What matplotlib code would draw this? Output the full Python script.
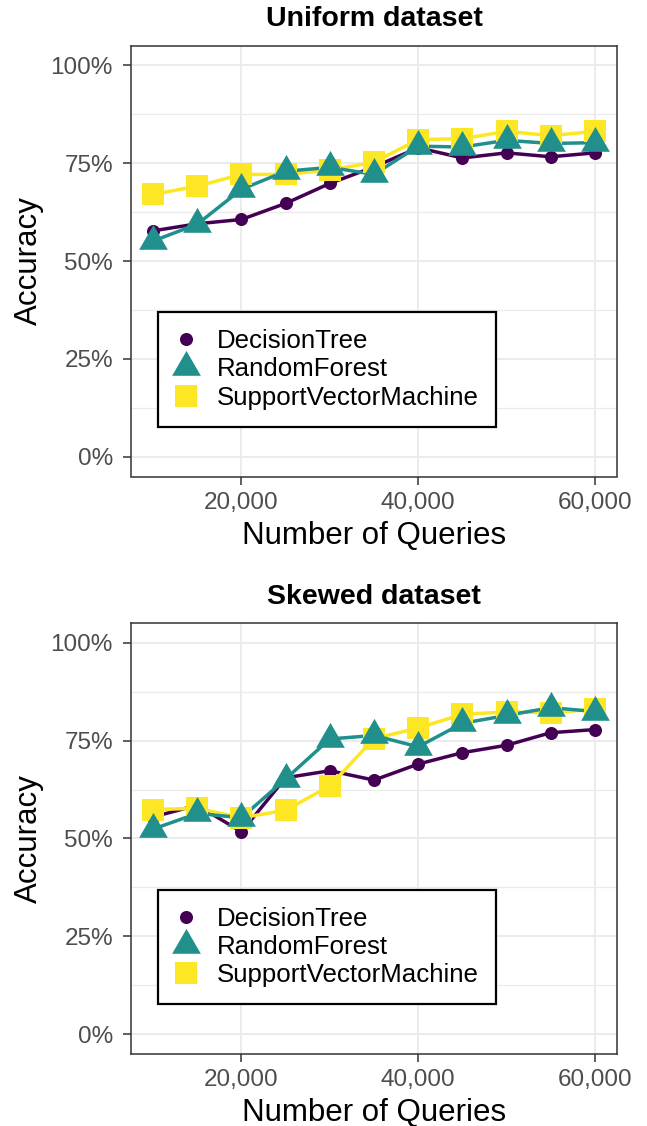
import matplotlib
matplotlib.use("Agg")
from matplotlib import pyplot as plt
from matplotlib.lines import Line2D
from matplotlib.ticker import FuncFormatter, MultipleLocator

plt.rcParams['font.family'] = ['Liberation Sans', 'DejaVu Sans']

queries = [10000, 15000, 20000, 25000, 30000, 35000, 40000, 45000, 50000, 55000, 60000]

uniform_dt = [57.7, 59.5, 60.6, 64.7, 69.8, 74.0, 78.9, 76.3, 77.6, 76.6, 77.6]
uniform_rf = [55.1, 59.4, 68.3, 72.9, 73.9, 72.1, 79.3, 79.1, 80.8, 80.0, 80.2]
uniform_svm = [67.0, 69.1, 72.1, 72.1, 73.2, 75.2, 81.0, 81.2, 83.1, 82.0, 83.1]

skewed_dt = [55.5, 58.5, 51.7, 65.5, 67.3, 64.9, 69.0, 71.9, 73.8, 77.0, 77.8]
skewed_rf = [52.4, 56.4, 55.3, 65.2, 75.4, 76.3, 73.4, 79.4, 81.4, 83.4, 82.4]
skewed_svm = [57.4, 57.7, 55.3, 57.2, 63.4, 75.5, 78.2, 81.7, 82.3, 82.1, 83.0]

models = ['DecisionTree', 'RandomForest', 'SupportVectorMachine']
colors = {'DecisionTree': '#440154', 'RandomForest': '#21908C', 'SupportVectorMachine': '#FDE725'}

# triangle centred on its centroid, like R's pch 17
tri = [(0, 1), (-0.866, -0.5), (0.866, -0.5)]
markers = {'DecisionTree': ('o', 9.4), 'RandomForest': (tri, 23.9), 'SupportVectorMachine': ('s', 15.8)}
# drawing order (bottom to top)
order = {'DecisionTree': 1, 'SupportVectorMachine': 2, 'RandomForest': 3}

W, H = 647, 1126
fig = plt.figure(figsize=(W / 100, H / 100), dpi=100)


def px_axes(left, top, right, bottom):
    return fig.add_axes([left / W, 1 - bottom / H, (right - left) / W, (bottom - top) / H])


def draw_panel(ax, title, series):
    for name in models:
        ax.plot(queries, series[name], color=colors[name], lw=2.5, zorder=2 + order[name] * 0.1,
                solid_capstyle='butt')
    for name in models:
        m, ms = markers[name]
        ax.plot(queries, series[name], linestyle='none', marker=m, markersize=ms,
                color=colors[name], markeredgewidth=0, zorder=4 + order[name] * 0.1)

    ax.set_xlim(7500, 62500)
    ax.set_ylim(-5, 105)
    ax.set_xticks([20000, 40000, 60000])
    ax.xaxis.set_major_formatter(FuncFormatter(lambda v, p: f"{int(v):,}"))
    ax.yaxis.set_major_locator(MultipleLocator(25))
    ax.yaxis.set_minor_locator(MultipleLocator(12.5))
    ax.yaxis.set_major_formatter(FuncFormatter(lambda v, p: f"{int(v)}%"))

    ax.grid(True, which='major', color='#EBEBEB', lw=1.4, zorder=0)
    ax.grid(True, which='minor', axis='y', color='#EBEBEB', lw=0.9, zorder=0)
    ax.set_axisbelow(True)
    ax.tick_params(which='minor', length=0)
    ax.tick_params(which='major', length=6, width=1.1, color='#333333',
                   labelcolor='#4D4D4D', labelsize=17.5)
    ax.tick_params(axis='y', pad=7)
    ax.tick_params(axis='x', pad=5)
    for s in ax.spines.values():
        s.set_color('#333333')
        s.set_linewidth(1.1)

    ax.set_xlabel('Number of Queries', fontsize=22.5, labelpad=5)
    ax.set_ylabel('Accuracy', fontsize=22.5, labelpad=5)
    ax.set_title(title, fontsize=20.5, fontweight='bold', pad=14)

    handles = []
    for name in models:
        m, ms = markers[name]
        handles.append(Line2D([], [], linestyle='none', marker=m, markersize=ms,
                              color=colors[name], markeredgewidth=0, label=name))
    leg = ax.legend(handles=handles, loc='upper left', bbox_to_anchor=(0.056, 0.381),
                    fontsize=18.6, frameon=True, fancybox=False, framealpha=1,
                    edgecolor='black', borderpad=0.66, labelspacing=0.16,
                    handletextpad=0.8, handlelength=0.8, borderaxespad=0)
    leg.get_frame().set_linewidth(1.6)


ax1 = px_axes(131, 45.5, 617, 476.5)
draw_panel(ax1, 'Uniform dataset',
           {'DecisionTree': uniform_dt, 'RandomForest': uniform_rf, 'SupportVectorMachine': uniform_svm})

ax2 = px_axes(131, 623, 617, 1054)
draw_panel(ax2, 'Skewed dataset',
           {'DecisionTree': skewed_dt, 'RandomForest': skewed_rf, 'SupportVectorMachine': skewed_svm})

fig.savefig('out.png', dpi=100)
